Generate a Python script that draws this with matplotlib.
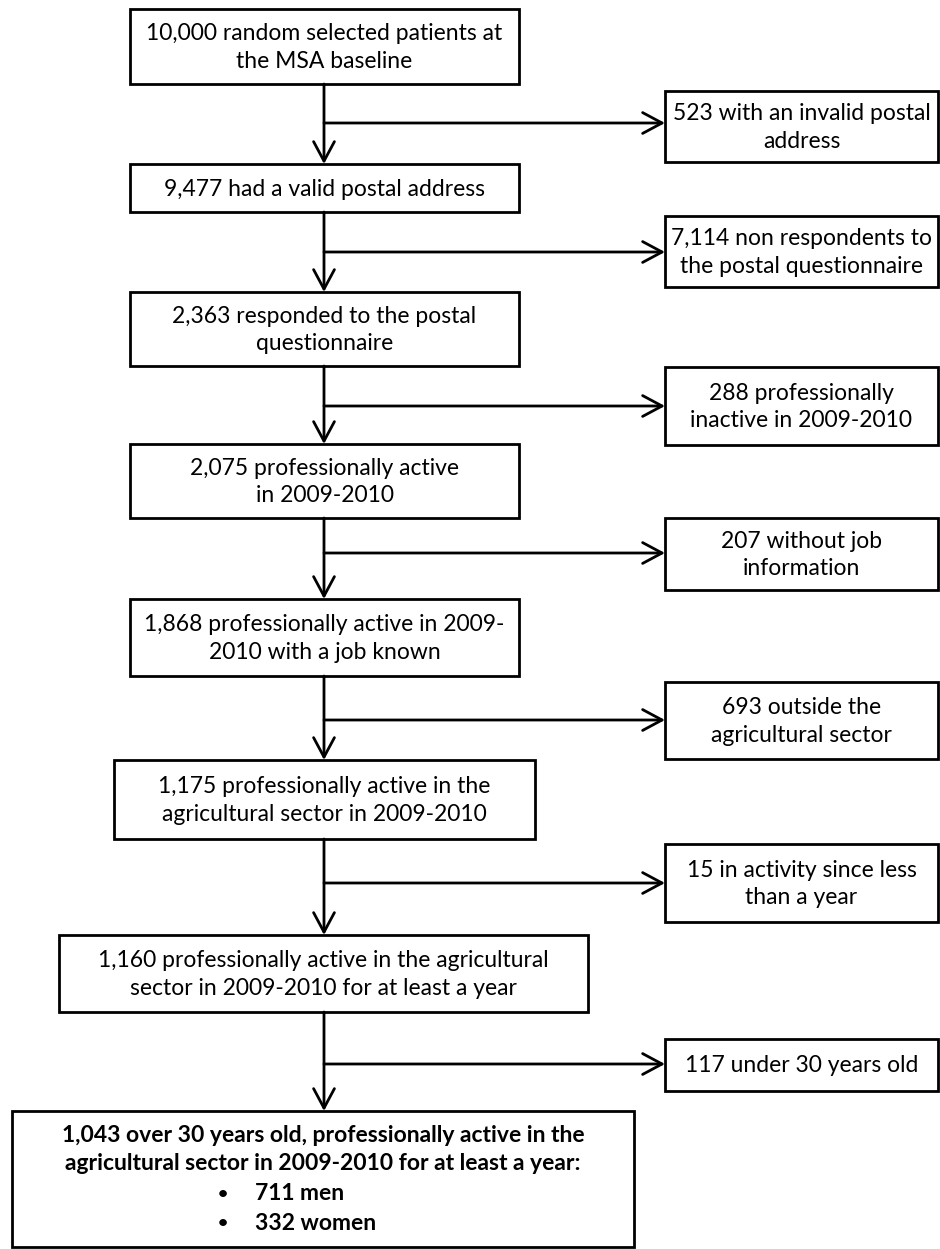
import matplotlib
matplotlib.use("Agg")
import matplotlib.pyplot as plt
from matplotlib.patches import Rectangle

# ---- content ----
main_labels = [
    "10,000 random selected patients at\nthe MSA baseline",
    "9,477 had a valid postal address",
    "2,363 responded to the postal\nquestionnaire",
    "2,075 professionally active\nin 2009-2010",
    "1,868 professionally active in 2009-\n2010 with a job known",
    "1,175 professionally active in the\nagricultural sector in 2009-2010",
    "1,160 professionally active in the agricultural\nsector in 2009-2010 for at least a year",
]
excl_labels = [
    "523 with an invalid postal\naddress",
    "7,114 non respondents to\nthe postal questionnaire",
    "288 professionally\ninactive in 2009-2010",
    "207 without job\ninformation",
    "693 outside the\nagricultural sector",
    "15 in activity since less\nthan a year",
    "117 under 30 years old",
]
final_header = ["1,043 over 30 years old, professionally active in the",
                "agricultural sector in 2009-2010 for at least a year:"]
final_groups = ["711 men", "332 women"]

# ---- layout (pixels, y downward) ----
W, H = 940, 1249
spine_x = 324
main_x = [(130, 519)] * 5 + [(114, 535), (59, 588)]
main_y = [(9, 84), (164, 212), (292, 366), (444, 518), (599, 676), (760, 839), (935, 1012)]
final_box = (12, 634, 1111, 1247)
excl_x = (665, 938)
excl_y = [(91, 162), (216, 287), (367, 445), (518, 590), (682, 759), (844, 922), (1039, 1091)]
branch_y = [123, 252, 406, 553, 720, 883, 1064]

FONT = "Lato"
FS = 16.5
LW = 2.0

fig = plt.figure(figsize=(W / 100, H / 100), dpi=100)
ax = fig.add_axes([0, 0, 1, 1])
ax.set_xlim(0, W)
ax.set_ylim(H, 0)
ax.axis("off")

def box(x0, x1, y0, y1):
    ax.add_patch(Rectangle((x0, y0), x1 - x0, y1 - y0, fill=False,
                           edgecolor="black", lw=LW, zorder=2))

def arrow(x0, y0, x1, y1):
    ax.annotate("", xy=(x1, y1), xytext=(x0, y0),
                arrowprops=dict(arrowstyle="->,head_length=1.4,head_width=0.75",
                                lw=LW, color="black", shrinkA=0, shrinkB=0),
                zorder=3)

# main boxes
for lab, (x0, x1), (y0, y1) in zip(main_labels, main_x, main_y):
    box(x0, x1, y0, y1)
    ax.text((x0 + x1) / 2, (y0 + y1) / 2 + 1, lab, ha="center", va="center",
            fontsize=FS, family=FONT, linespacing=1.38)

# exclusion boxes
for lab, (y0, y1), by in zip(excl_labels, excl_y, branch_y):
    box(excl_x[0], excl_x[1], y0, y1)
    ax.text((excl_x[0] + excl_x[1]) / 2, (y0 + y1) / 2 + 1, lab, ha="center",
            va="center", fontsize=FS, family=FONT, linespacing=1.38)
    arrow(spine_x, by, excl_x[0], by)

# vertical arrows
tops = [y0 for (y0, y1) in main_y[1:]] + [final_box[2]]
for (y0, y1), t in zip(main_y, tops):
    arrow(spine_x, y1, spine_x, t)

# final box
fx0, fx1, fy0, fy1 = final_box
box(fx0, fx1, fy0, fy1)
line_y = [1135, 1164, 1194, 1223]
for s, yy in zip(final_header, line_y[:2]):
    ax.text((fx0 + fx1) / 2, yy, s, ha="center", va="center", fontsize=FS,
            family=FONT, fontweight="bold")
for s, yy in zip(final_groups, line_y[2:]):
    ax.text(223, yy, "\u2022", ha="center", va="center", fontsize=FS - 4,
            family=FONT, fontweight="bold")
    ax.text(255, yy, s, ha="left", va="center", fontsize=FS,
            family=FONT, fontweight="bold")

fig.savefig("out.png", dpi=100)
